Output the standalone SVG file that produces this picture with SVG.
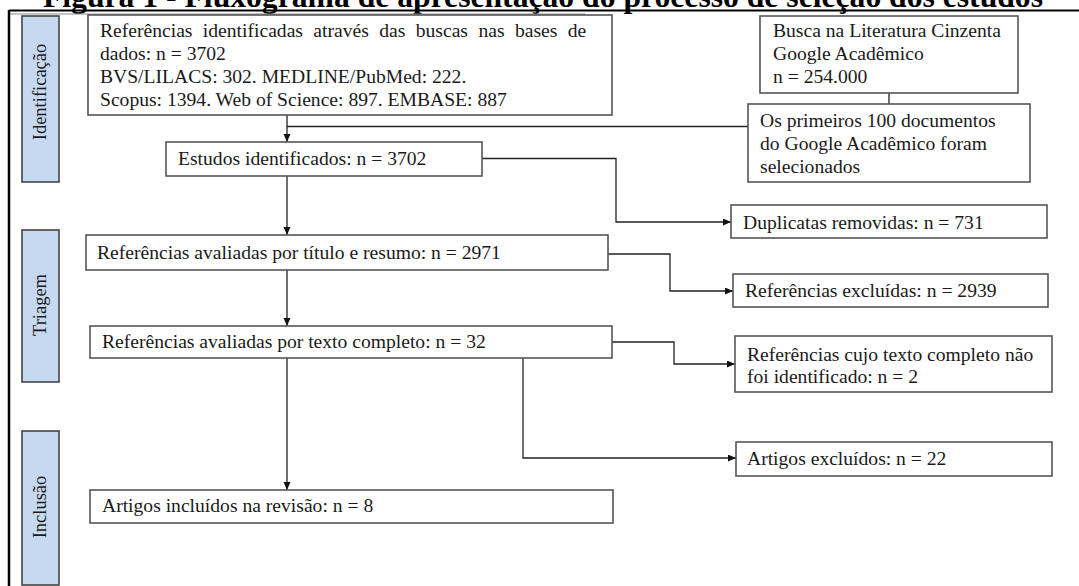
<svg xmlns="http://www.w3.org/2000/svg" width="1079" height="586" viewBox="0 0 1079 586">
<defs>
<marker id="arr" markerUnits="userSpaceOnUse" markerWidth="9" markerHeight="8" refX="8" refY="3.5" orient="auto">
<path d="M0,0 L8,3.5 L0,7 z" fill="#111"/>
</marker>
<style>
.box{fill:#fff;stroke:#555;stroke-width:1.6}
.lab{fill:#c6d9f1;stroke:#444;stroke-width:1.6}
.t{font-family:'Liberation Serif',serif;font-size:19.6px;fill:#1a1a1a}
.lt{font-family:'Liberation Serif',serif;font-size:18.5px;fill:#1a1a1a}
.c{fill:none;stroke:#222;stroke-width:1.3}
.ca{fill:none;stroke:#222;stroke-width:1.3;marker-end:url(#arr)}
</style>
</defs>
<rect width="1079" height="586" fill="#fff"/>
<text x="43" y="7" font-family="Liberation Serif,serif" font-weight="bold" font-size="31.5" fill="#000" textLength="1000" lengthAdjust="spacingAndGlyphs">Figura 1 - Fluxograma de apresentação do processo de seleção dos estudos</text>
<g id="frame">
<line x1="9" y1="10.5" x2="1079" y2="10.5" stroke="#000" stroke-width="2.2"/>
<line x1="10" y1="14" x2="585" y2="14" stroke="#888" stroke-width="1.2"/>
<line x1="9" y1="10" x2="9" y2="586" stroke="#000" stroke-width="2.5"/>
</g>
<g id="lab-identificacao"><rect class="lab" x="22" y="16" width="37" height="166"/><text class="lt" transform="translate(46,92) rotate(-90)" text-anchor="middle">Identificação</text></g>
<g id="lab-triagem"><rect class="lab" x="22" y="230" width="37" height="152"/><text class="lt" transform="translate(46,305) rotate(-90)" text-anchor="middle">Triagem</text></g>
<g id="lab-inclusao"><rect class="lab" x="22" y="431" width="37" height="154"/><text class="lt" transform="translate(46,507) rotate(-90)" text-anchor="middle">Inclusão</text></g>
<g id="connectors">
<path class="ca" d="M287,115 V142"/>
<path class="c" d="M748,126.5 H287"/>
<path class="c" d="M889,93 V104"/>
<path class="ca" d="M287,176 V235"/>
<path class="ca" d="M482,158.5 H616 V222 H731"/>
<path class="ca" d="M287,270 V326"/>
<path class="ca" d="M608,254 H670 V291 H733"/>
<path class="ca" d="M287,358 V490"/>
<path class="ca" d="M612,342 H674 V364 H735"/>
<path class="ca" d="M523,358 V458 H736"/>
</g>
<g id="n-refs"><rect class="box" x="88" y="15" width="524" height="100"/>
<text class="t" x="100" y="37" style="word-spacing:5.5px">Referências identificadas através das buscas nas bases de</text>
<text class="t" x="100" y="60">dados: n = 3702</text>
<text class="t" x="100" y="83">BVS/LILACS: 302. MEDLINE/PubMed: 222.</text>
<text class="t" x="100" y="106">Scopus: 1394. Web of Science: 897. EMBASE: 887</text></g>
<g id="n-cinzenta"><rect class="box" x="760" y="16" width="258" height="77"/>
<text class="t" x="773" y="37">Busca na Literatura Cinzenta</text>
<text class="t" x="773" y="60">Google Acadêmico</text>
<text class="t" x="773" y="83">n = 254.000</text></g>
<g id="n-primeiros"><rect class="box" x="748" y="104" width="282" height="78"/>
<text class="t" x="760" y="127">Os primeiros 100 documentos</text>
<text class="t" x="760" y="150">do Google Acadêmico foram</text>
<text class="t" x="760" y="173">selecionados</text></g>
<g id="n-estudos"><rect class="box" x="166" y="142" width="316" height="34"/>
<text class="t" x="178" y="165">Estudos identificados: n = 3702</text></g>
<g id="n-duplicatas"><rect class="box" x="731" y="205" width="316" height="33"/>
<text class="t" x="743" y="229">Duplicatas removidas: n = 731</text></g>
<g id="n-titulo"><rect class="box" x="86" y="235" width="522" height="35"/>
<text class="t" x="97" y="259">Referências avaliadas por título e resumo: n = 2971</text></g>
<g id="n-excluidas"><rect class="box" x="733" y="274" width="315" height="33"/>
<text class="t" x="745" y="297">Referências excluídas: n = 2939</text></g>
<g id="n-texto"><rect class="box" x="90" y="326" width="522" height="32"/>
<text class="t" x="102" y="348">Referências avaliadas por texto completo: n = 32</text></g>
<g id="n-naoident"><rect class="box" x="735" y="336" width="317" height="56"/>
<text class="t" x="747" y="361">Referências cujo texto completo não</text>
<text class="t" x="747" y="383">foi identificado: n = 2</text></g>
<g id="n-artexcl"><rect class="box" x="736" y="442" width="316" height="34"/>
<text class="t" x="747" y="465">Artigos excluídos: n = 22</text></g>
<g id="n-incluidos"><rect class="box" x="90" y="490" width="523" height="33"/>
<text class="t" x="102" y="512">Artigos incluídos na revisão: n = 8</text></g>
</svg>
